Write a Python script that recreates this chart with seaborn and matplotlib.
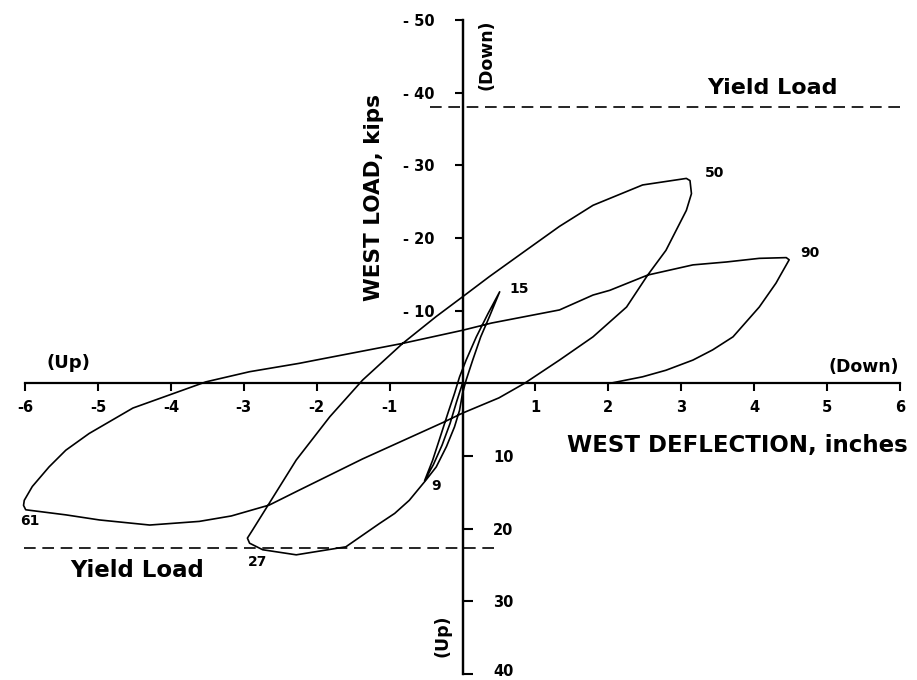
import matplotlib
matplotlib.use("Agg")
import matplotlib.pyplot as plt
import matplotlib.transforms as mtrans
import seaborn as sns
import pandas as pd

sns.set_theme(style="white")
plt.rcParams['font.family'] = ['DejaVu Sans']

# ---------------- data (deflection in inches, load in kips; +load = Up) ----
defl_0_9 = [0.0, -0.08, -0.17, -0.28, -0.40, -0.52]
load_0_9 = [0.0, 2.5, 5.5, 8.5, 11.2, 13.4]

defl_9_15 = [-0.52, -0.41, -0.29, -0.20, -0.11, -0.04, 0.05, 0.19, 0.35, 0.51]
load_9_15 = [13.4, 10.6, 6.9, 4.1, 1.4, -0.9, -3.2, -6.4, -9.6, -12.6]

defl_15_27 = [0.51, 0.37, 0.25, 0.14, 0.05, 0.0, -0.04, -0.11, -0.22, -0.36,
              -0.50, -0.73, -0.93, -1.14, -1.60, -2.28, -2.74, -2.92]
load_15_27 = [-12.6, -9.2, -6.4, -3.2, -0.45, 1.4, 3.7, 6.0, 8.7, 11.5,
              13.3, 16.1, 17.9, 19.3, 22.5, 23.6, 22.9, 22.0]

defl_27_50 = [-2.92, -2.95, -2.88, -2.65, -2.28, -1.82, -1.37, -0.82, -0.36,
              0.0, 0.37, 0.87, 1.33, 1.79, 2.47, 3.07, 3.12]
load_27_50 = [22.0, 21.3, 20.2, 16.5, 10.55, 4.6, -0.45, -5.5, -9.2,
              -11.9, -14.7, -18.3, -21.6, -24.5, -27.3, -28.2, -27.9]

defl_50_61 = [3.14, 3.07, 2.79, 2.54, 2.25, 1.79, 1.33, 0.85, 0.50, 0.0,
              -0.27, -1.37, -2.26, -2.65, -3.17, -3.61, -4.29, -4.98, -5.44, -5.99]
load_50_61 = [-26.1, -23.8, -18.3, -14.9, -10.5, -6.4, -3.2, 0.0, 2.0, 4.1,
              5.4, 10.4, 14.8, 16.75, 18.25, 19.0, 19.5, 18.8, 18.1, 17.4]

defl_61_90 = [-6.02, -6.01, -5.90, -5.67, -5.44, -5.12, -4.52, -4.02, -3.52,
              -2.92, -2.24, -2.01, -0.82, 0.0, 0.40, 1.33, 1.79, 2.02, 2.54,
              3.16, 3.62, 4.07, 4.44, 4.48]
load_61_90 = [16.8, 16.1, 14.2, 11.5, 9.2, 6.9, 3.4, 1.6, -0.2,
              -1.6, -2.75, -3.2, -5.5, -7.3, -8.3, -10.1, -12.15, -12.8, -14.9,
              -16.3, -16.7, -17.2, -17.3, -17.0]

defl_90_end = [4.35, 4.30, 4.07, 3.71, 3.43, 3.16, 2.79, 2.47, 2.02]
load_90_end = [-14.7, -13.8, -10.5, -6.4, -4.6, -3.2, -1.8, -0.9, 0.0]

yield_load_down = -38.0
yield_load_up = 22.6
yield_down_span = [-0.45, 6.02]
yield_up_span = [-6.02, 0.48]

x_ticks = [-6, -5, -4, -3, -2, -1, 0, 1, 2, 3, 4, 5, 6]
x_tick_labels = ['-6', '-5', '-4', '-3', '-2', '-1', '', '1', '2', '3', '4', '5', '6']
y_ticks_down = [-50, -40, -30, -20, -10]
y_tick_labels_down = ['- 50', '- 40', '- 30', '- 20', '- 10']
y_ticks_up = [10, 20, 30, 40]
y_tick_labels_up = ['10', '20', '30', '40']

peak_labels = ['9', '15', '27', '50', '61', '90']
peak_label_x = [-0.36, 0.78, -2.81, 3.46, -5.94, 4.77]
peak_label_y = [14.1, -13.0, 24.6, -28.9, 18.9, -17.9]

# ---------------- build the path table --------------------------------------
segs = [(defl_0_9, load_0_9), (defl_9_15, load_9_15), (defl_15_27, load_15_27),
        (defl_27_50, load_27_50), (defl_50_61, load_50_61),
        (defl_61_90, load_61_90), (defl_90_end, load_90_end)]
xs, ys = [], []
for dx, ly in segs:
    xs.extend(dx)
    ys.extend(ly)
df = pd.DataFrame({'defl': xs, 'load': ys})

# ---------------- figure ----------------------------------------------------
fig = plt.figure(figsize=(9.17, 6.8), dpi=100)
ax = fig.add_axes([25 / 917, 6 / 680, 875 / 917, 654 / 680])
ax.set_facecolor('white')

sns.lineplot(data=df, x='defl', y='load', sort=False, estimator=None,
             color='black', lw=1.2, ax=ax)

ax.plot(yield_down_span, [yield_load_down] * 2, color='black', lw=1.2,
        linestyle=(0, (7, 4)), clip_on=False)
ax.plot(yield_up_span, [yield_load_up] * 2, color='black', lw=1.2,
        linestyle=(0, (7, 4)), clip_on=False)
for ln in ax.lines:
    ln.set_clip_on(False)

ax.set_xlim(-6, 6)
ax.set_ylim(40, -50)
ax.set_xlabel('')
ax.set_ylabel('')

for s in ['top', 'right']:
    ax.spines[s].set_visible(False)
ax.spines['left'].set_position(('data', 0))
ax.spines['bottom'].set_position(('data', 0))
for s in ['left', 'bottom']:
    ax.spines[s].set_color('black')
    ax.spines[s].set_linewidth(1.6)

ax.set_xticks(x_ticks)
ax.set_xticklabels(x_tick_labels)
ax.set_yticks(y_ticks_down)
ax.set_yticklabels(y_tick_labels_down)
ax.tick_params(axis='x', direction='out', length=6, width=1.5, pad=6,
               labelsize=10.5, colors='black', bottom=True)
ax.tick_params(axis='y', direction='out', length=6, width=1.5, pad=14,
               labelsize=10.5, colors='black', left=True)
for t in ax.get_xticklabels() + ax.get_yticklabels():
    t.set_fontweight('bold')

ax2 = ax.twinx()
ax2.set_ylim(40, -50)
for s in ['top', 'left', 'bottom']:
    ax2.spines[s].set_visible(False)
ax2.spines['right'].set_position(('data', 0))
ax2.spines['right'].set_color('black')
ax2.spines['right'].set_linewidth(1.6)
ax2.set_yticks(y_ticks_up)
ax2.set_yticklabels(y_tick_labels_up)
ax2.tick_params(axis='y', direction='out', length=7, width=1.5, pad=15,
                labelsize=10.5, colors='black', right=True)
for t in ax2.get_yticklabels():
    t.set_fontweight('bold')
# nudge the bottom-most label up slightly so it stays inside the canvas
last = ax2.get_yticklabels()[-1]
last.set_transform(last.get_transform() +
                   mtrans.ScaledTranslation(0, 3 / 72, fig.dpi_scale_trans))
ax2.grid(False)
ax.grid(False)

# ---------------- texts -----------------------------------------------------
tk = dict(color='black', fontweight='bold', ha='center', va='center')
ax.text(-1.21, -25.6, 'WEST LOAD, kips', rotation=90, fontsize=15.5, **tk)
ax.text(3.77, 8.6, 'WEST DEFLECTION, inches', fontsize=16.5, **tk)
ax.text(0.33, -45.2, '(Down)', rotation=90, fontsize=12.5, **tk)
ax.text(-0.28, 34.8, '(Up)', rotation=90, fontsize=12.5, **tk)
ax.text(5.5, -2.3, '(Down)', fontsize=12.5, **tk)
ax.text(-5.4, -2.8, '(Up)', fontsize=13, **tk)
ax.text(4.25, -40.6, 'Yield Load', fontsize=16, **tk)
ax.text(-4.46, 25.7, 'Yield Load', fontsize=16.5, **tk)
for lab, px, py in zip(peak_labels, peak_label_x, peak_label_y):
    ax.text(px, py, lab, fontsize=10, **tk)

fig.savefig('out.png', dpi=100)
